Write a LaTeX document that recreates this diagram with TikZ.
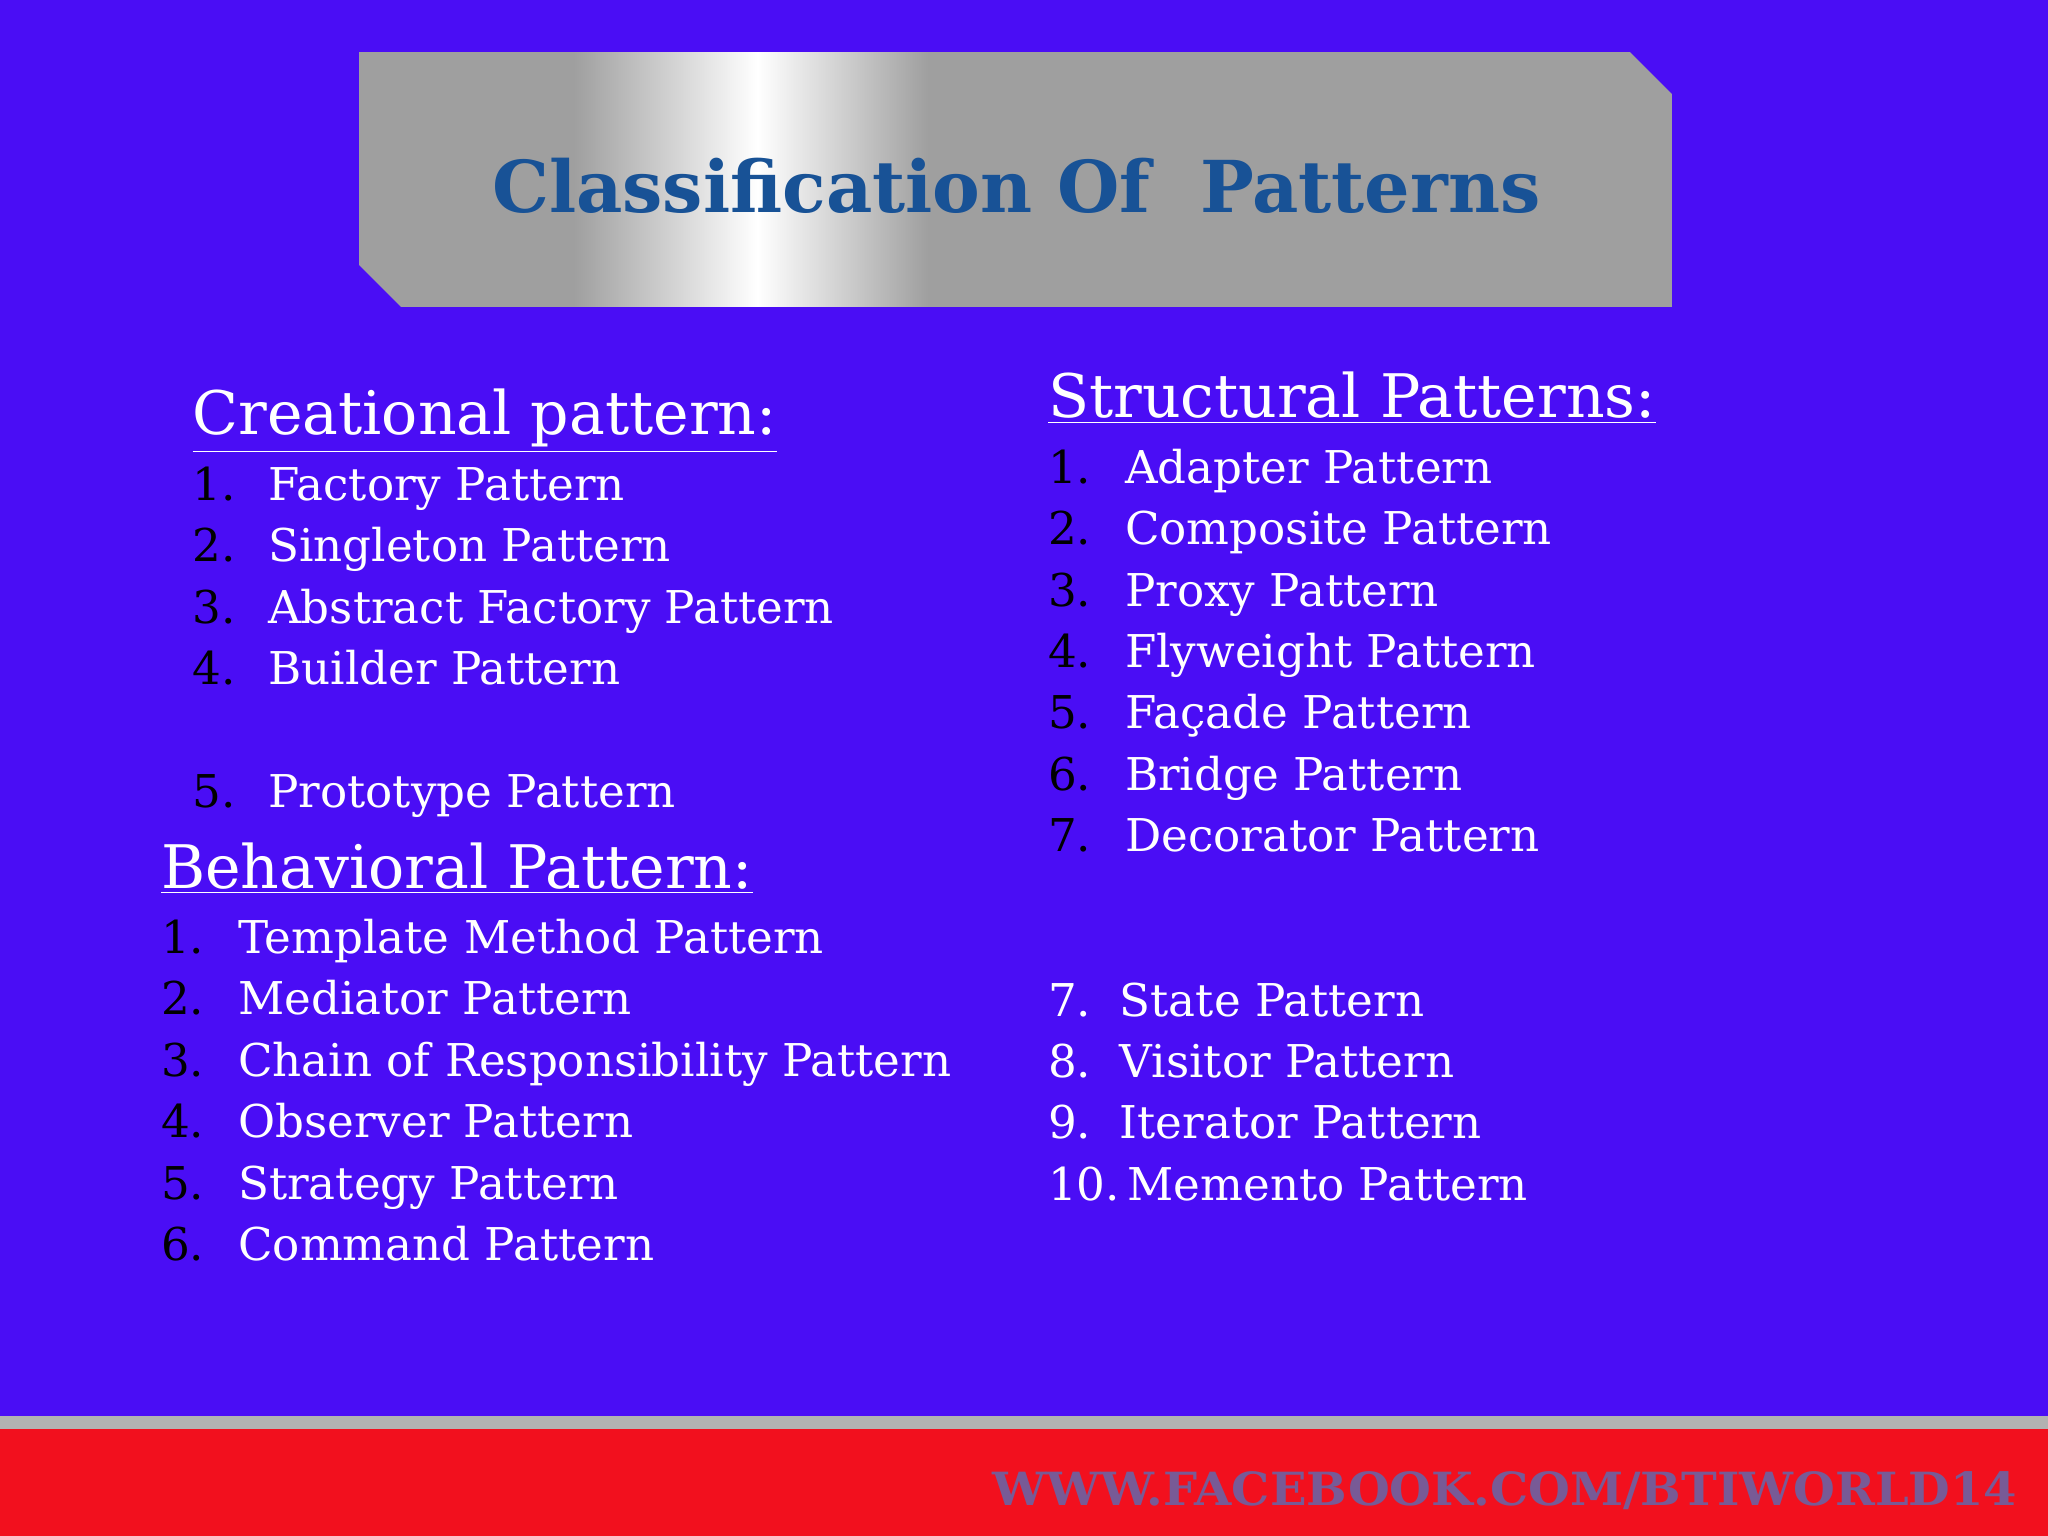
\documentclass[tikz,border=0pt]{standalone}
\usepackage{fontspec}
\setmainfont{DejaVu Serif}
\newfontfamily\titlefont{DejaVu Serif}
\usetikzlibrary{shadings}
\definecolor{bg}{RGB}{74,13,245}
\definecolor{ttl}{RGB}{24,82,150}
\definecolor{foot}{RGB}{242,16,30}
\definecolor{ftxt}{RGB}{120,90,150}
\tikzset{
 item/.style={anchor=base west,inner sep=0pt,text=white,font=\fontsize{17.3}{18}\selectfont},
 num/.style={anchor=base west,inner sep=0pt,text=black,font=\fontsize{17.3}{18}\selectfont},
 head/.style={anchor=base west,inner sep=0pt,text=white,font=\fontsize{23}{24}\selectfont}
}
\begin{document}
\begin{tikzpicture}[x=0.5pt,y=-0.5pt]
\fill[bg] (0,0) rectangle (1568,1176);
% banner
\begin{scope}
\clip (275,40) -- (1248,40) -- (1280,72) -- (1280,235) -- (307,235) -- (275,203) -- cycle;
\fill[gray!75] (275,30) rectangle (440,245);
\fill[gray!75] (710,30) rectangle (1290,245);
\shade[left color=gray!75,right color=white] (440,30) rectangle (580,245);
\shade[left color=white,right color=gray!75] (580,30) rectangle (710,245);
\end{scope}
\node[inner sep=0pt,text=ttl,font=\titlefont\bfseries\fontsize{27.4}{28}\selectfont] (title) at (778,142) {Classification Of\ \ Patterns};
% footer
\fill[gray!60] (0,1084) rectangle (1568,1094);
\fill[foot] (0,1094) rectangle (1568,1176);
\node[anchor=east,inner sep=0pt,text=ftxt,xscale=1.05,font=\bfseries\fontsize{17.5}{18}\selectfont] (fb) at (1545,1141) {WWW.FACEBOOK.COM/BTIWORLD14};
% creational
\node[head] (ch) at (147,333) {\underline{Creational pattern:}};
\foreach \n/\t/\y in {1/Factory Pattern/371,2/Singleton Pattern/418,3/Abstract Factory Pattern/465,4/Builder Pattern/512,5/Prototype Pattern/606}{
 \node[num] (cn\n) at (147,\y+12) {\n.};
 \node[item] (ct\n) at (205,\y+12) {\t};}
% behavioral
\node[head] (bh) at (123,680) {\underline{Behavioral Pattern:}};
\foreach \n/\t/\y in {1/Template Method Pattern/718,2/Mediator Pattern/765,3/Chain of Responsibility Pattern/812,4/Observer Pattern/859,5/Strategy Pattern/906,6/Command Pattern/953}{
 \node[num] (bn\n) at (123,\y+12) {\n.};
 \node[item] (bt\n) at (182,\y+12) {\t};}
% structural
\node[head] (sh) at (802,320) {\underline{Structural Patterns:}};
\foreach \n/\t/\y in {1/Adapter Pattern/358,2/Composite Pattern/405,3/Proxy Pattern/452,4/Flyweight Pattern/499,5/Façade Pattern/546,6/Bridge Pattern/593,7/Decorator Pattern/640}{
 \node[num] (sn\n) at (802,\y+12) {\n.};
 \node[item] (st\n) at (861,\y+12) {\t};}
% behavioral continued
\node[item] (r7) at (802,778) {7.\ \ State Pattern};
\node[item] (r8) at (802,825) {8.\ \ Visitor Pattern};
\node[item] (r9) at (802,872) {9.\ \ Iterator Pattern};
\node[item] (r10) at (802,919) {10.\,Memento Pattern};
\end{tikzpicture}
\end{document}
